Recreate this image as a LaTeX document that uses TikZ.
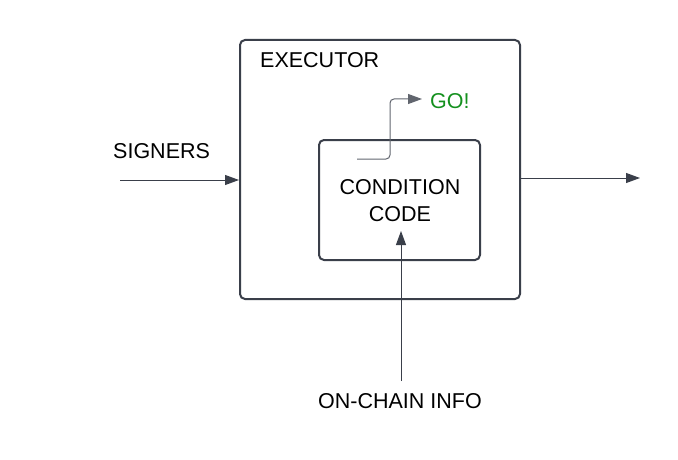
\documentclass[tikz,border=0pt]{standalone}
\usepackage{fontspec}
\setmainfont{Liberation Sans}
\usetikzlibrary{arrows.meta}
\definecolor{edge}{HTML}{3A3F4A}
\definecolor{gogreen}{HTML}{14901E}
\begin{document}
\begin{tikzpicture}[x=1pt,y=-1pt,
  box/.style={draw=edge,line width=2pt,rounded corners=5pt},
  lbl/.style={font=\fontsize{21.5}{27}\selectfont,text=black,inner sep=0pt},
  conn/.style={draw=edge,line width=1pt,-{Triangle[length=14pt,width=10pt]}}]
\useasboundingbox (0,0) rectangle (678,460);
\node[box,minimum width=280pt,minimum height=259pt,inner sep=0pt] (exec) at (380,169.5) {};
\node[box,minimum width=161pt,minimum height=120pt,inner sep=0pt] (cond) at (399.5,200) {};
\node[lbl,anchor=west] (execl) at (260,60) {EXECUTOR};
\node[lbl,align=center] (condl) at (400,200.5) {CONDITION\\CODE};
\node[lbl,anchor=west] (sig) at (113,151) {SIGNERS};
\node[lbl,text=gogreen,anchor=west] (go) at (430,101) {GO!};
\node[lbl] (chain) at (400,401) {ON-CHAIN INFO};
\coordinate (sigs) at (120,180);
\coordinate (outr) at (640,178);
\coordinate (gos) at (357,159);
\coordinate (chs) at (401,381);
\draw[conn] (sigs) -- (sigs -| exec.west);
\draw[conn] (exec.east |- outr) -- (outr);
\draw[conn,draw=edge!80,rounded corners=4pt] (gos) -- (390,159) -- (390,99) -- (422,99);
\draw[conn] (chs) -- (401,231);
\end{tikzpicture}
\end{document}
